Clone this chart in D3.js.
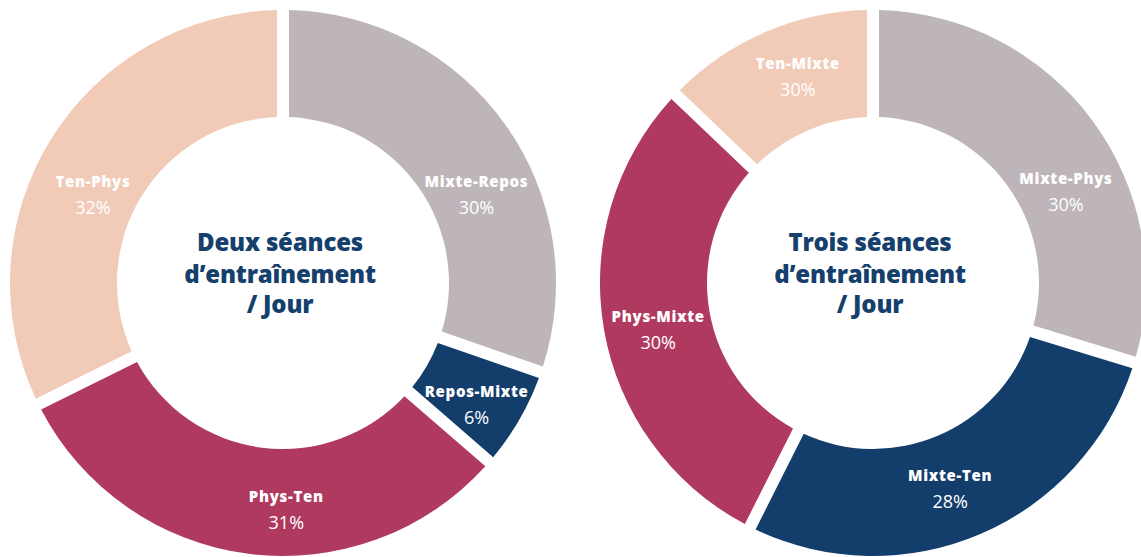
<!DOCTYPE html>
<html>
<head>
<meta charset="utf-8">
<script src="https://cdn.jsdelivr.net/npm/d3@7"></script>
<style>
  body { margin: 0; background: #fff; }
  svg { display: block; }
</style>
</head>
<body>
<div id="chart"></div>
<script>
// data
const leftCategories = ["Mixte-Repos", "Repos-Mixte", "Phys-Ten", "Ten-Phys"];
const leftValues = [30, 6, 31, 32];
const leftLabels = ["30%", "6%", "31%", "32%"];
const leftTitle = ["Deux séances", "d’entraînement", "/ Jour"];

const rightCategories = ["Mixte-Phys", "Mixte-Ten", "Phys-Mixte", "Ten-Mixte"];
const rightValues = [30, 28, 30, 13];              // slice sizes as drawn
const rightLabels = ["30%", "28%", "30%", "30%"];  // percentages as printed
const rightTitle = ["Trois séances", "d’entraînement", "/ Jour"];

const sliceColors = ["#bdb5b9", "#133e6b", "#b03a5f", "#f1cbb8"];

// layout
const W = 1141, H = 557;
const outerR = 273, innerR = 166, labelR = 219;
// small hand nudges so the labels sit where the original had them
const leftNudge = [[15, 33], [4, 6], [31, 4], [-4, 21]];
const rightNudge = [[17, 33], [-9, -1], [1, 4], [11, -11]];

class Donut {
    constructor(svg, cx, cy, cats, values, labels, title, nudge) {
        this.g = svg.append("g").attr("transform", `translate(${cx},${cy})`);
        this.data = cats.map((c, i) => ({cat: c, value: values[i], label: labels[i], idx: i}));
        this.title = title;
        this.nudge = nudge;
    }
    render() {
        const pie = d3.pie().sort(null).value(d => d.value);
        const arc = d3.arc()
            .innerRadius(innerR)
            .outerRadius(outerR)
            .padAngle(12 / 300)
            .padRadius(300);
        const labelArc = d3.arc().innerRadius(labelR).outerRadius(labelR);
        const color = d3.scaleOrdinal().domain(d3.range(4)).range(sliceColors);

        const arcs = pie(this.data);

        this.g.selectAll(".slice")
            .data(arcs)
            .enter()
            .append("path")
            .attr("class", "slice")
            .attr("d", arc)
            .style("fill", d => color(d.data.idx));

        const lab = this.g.selectAll(".lab")
            .data(arcs)
            .enter()
            .append("g")
            .attr("class", "lab")
            .attr("transform", d => {
                const [x, y] = labelArc.centroid(d);
                const n = this.nudge[d.data.idx];
                return `translate(${x + n[0]},${y + n[1]})`;
            });

        lab.append("text")
            .attr("y", -2)
            .attr("text-anchor", "middle")
            .style("font-family", "'Open Sans', sans-serif")
            .style("font-weight", "800")
            .style("font-size", "15px")
            .style("letter-spacing", "0.7px")
            .style("fill", "#fff")
            .text(d => d.data.cat);

        lab.append("text")
            .attr("y", 25)
            .attr("text-anchor", "middle")
            .style("font-family", "'Open Sans', sans-serif")
            .style("font-size", "18px")
            .style("fill", "#fff")
            .text(d => d.data.label);

        const lineY = [-32, 0, 30];
        this.g.selectAll(".title")
            .data(this.title)
            .enter()
            .append("text")
            .attr("class", "title")
            .attr("x", -3)
            .attr("y", (d, i) => lineY[i])
            .attr("text-anchor", "middle")
            .style("font-family", "'Open Sans', sans-serif")
            .style("font-weight", "800")
            .style("font-size", "24px")
            .style("letter-spacing", "-0.2px")
            .style("fill", "#153f6c")
            .text(d => d);
    }
}

const svg = d3.select("#chart")
    .append("svg")
    .attr("width", W)
    .attr("height", H);

new Donut(svg, 283, 283, leftCategories, leftValues, leftLabels, leftTitle, leftNudge).render();
new Donut(svg, 873, 283, rightCategories, rightValues, rightLabels, rightTitle, rightNudge).render();
</script>
</body>
</html>
